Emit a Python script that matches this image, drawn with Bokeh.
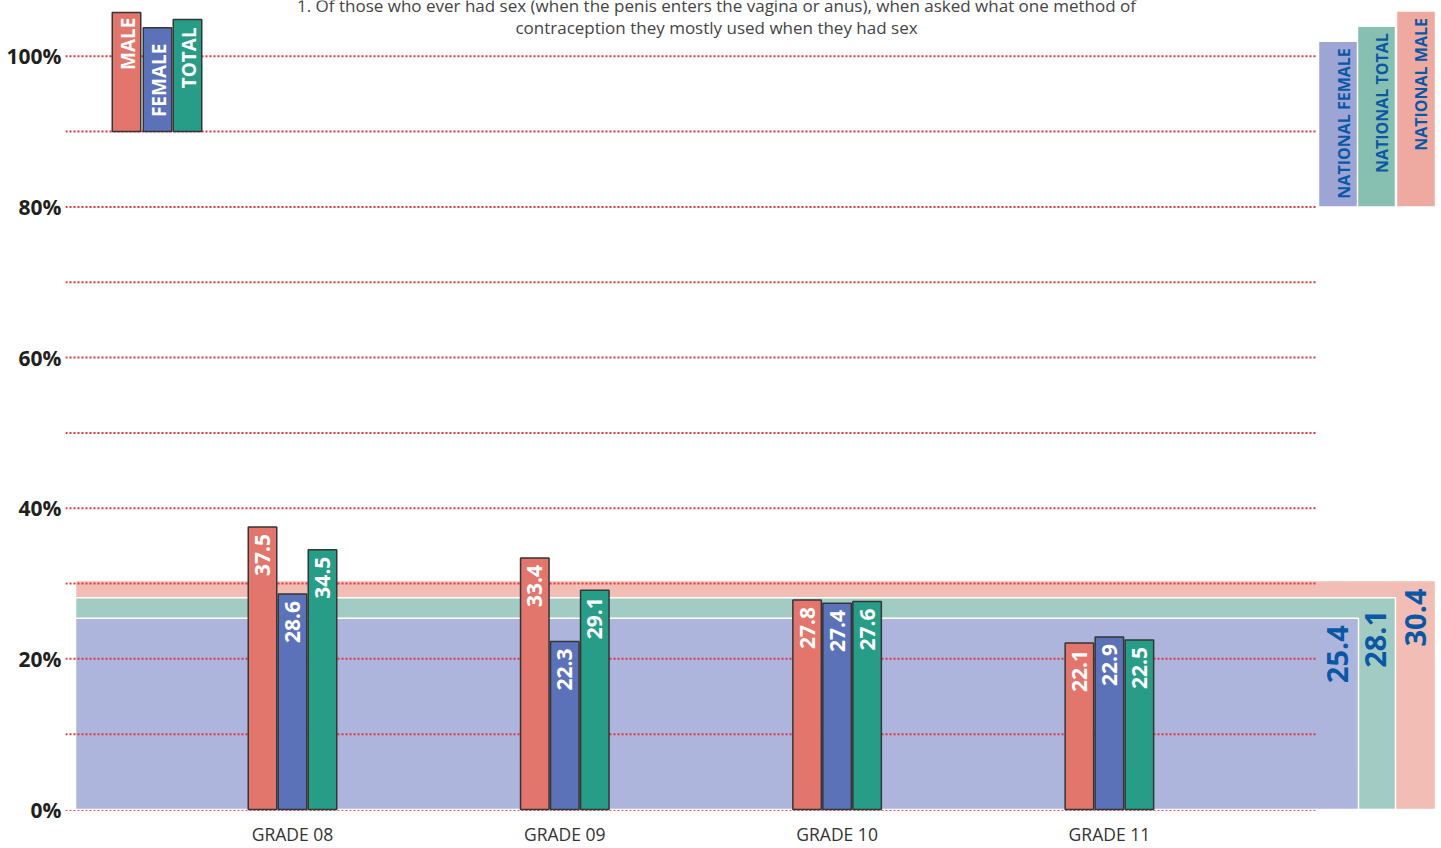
import math
import numpy as np
from bokeh.plotting import figure
from bokeh.models import FixedTicker, ColumnDataSource
from bokeh.core.properties import value
from bokeh.embed import file_html
from bokeh.resources import INLINE

# ---------------- data ----------------
grades = ["GRADE 08", "GRADE 09", "GRADE 10", "GRADE 11"]
male = [37.5, 33.4, 27.8, 22.1]
female = [28.6, 22.3, 27.4, 22.9]
total = [34.5, 29.1, 27.6, 22.5]

national_labels = ["NATIONAL FEMALE", "NATIONAL TOTAL", "NATIONAL MALE"]
national_values = [25.4, 28.1, 30.4]

legend_labels = ["MALE", "FEMALE", "TOTAL"]
y_ticks = [0, 20, 40, 60, 80, 100]
grid_levels = [10, 20, 30, 40, 50, 60, 70, 80, 90, 100]
title_lines = [
    "1. Of those who ever had sex (when the penis enters the vagina or anus), when asked what one method of",
    "contraception they mostly used when they had sex",
]

# ---------------- layout / style ----------------
W, H = 1441, 848
PX_X = 272.3      # pixels per grade step
X0_REF = 292.0    # canvas x of first grade
PX_Y = 7.56       # pixels per percent
Y0_REF = 812.0    # canvas y of 0 %

def ux(r):
    return (r - X0_REF) / PX_X

def uy(r):
    return (Y0_REF - r) / PX_Y

FONT = "Open Sans"
C_MALE, C_FEMALE, C_TOTAL = "#E2756C", "#5B72B8", "#279C87"
BAND_COLORS = ["#ADB5DC", "#A2CCC3", "#F2BDB5"]      # female, total, male
LEG_COLORS = ["#9CA5D3", "#87BFB1", "#EEAAA1"]
BLUE_TXT = "#0A57A6"
RED_GRID = "#E3343F"

p = figure(width=W, height=H, x_range=(ux(65), ux(1441)), y_range=(uy(815), uy(0)),
           output_backend="svg", toolbar_location=None, title=None,
           min_border_left=65, min_border_right=0, min_border_top=0, min_border_bottom=33)
p.outline_line_color = None
p.background_fill_color = "white"
p.border_fill_color = "white"
p.xgrid.visible = False
p.ygrid.visible = False

# national bands
band_right_ref = [1358, 1395, 1435]
for i in [2, 1, 0]:
    p.quad(left=ux(75), right=ux(band_right_ref[i]), bottom=0, top=national_values[i],
           fill_color=BAND_COLORS[i], line_color="white", line_width=1.5)

# national legend columns
col_left_ref = [1318, 1357, 1396]
col_top = [102, 104, 106]
val_off = [7, 12, 8]
for i in range(3):
    cx = (col_left_ref[i] + band_right_ref[i]) / 2
    p.quad(left=ux(col_left_ref[i]), right=ux(band_right_ref[i]), bottom=80, top=col_top[i],
           fill_color=LEG_COLORS[i], line_color="white", line_width=1.5)
    p.text(x=[ux(cx + 5)], y=[col_top[i] - 7 / PX_Y],
           text=[national_labels[i]], angle=math.pi / 2, text_align="right",
           text_baseline="middle", text_font=value(FONT), text_font_size="16px",
           text_font_style="bold", text_color=BLUE_TXT)
    p.text(x=[ux(cx - 1)], y=[national_values[i] - val_off[i] / PX_Y],
           text=[f"{national_values[i]:.1f}"], angle=math.pi / 2, text_align="right",
           text_baseline="middle", text_font=value(FONT), text_font_size="29px",
           text_font_style="bold", text_color=BLUE_TXT)

# grid lines
n = len(grid_levels)
p.segment(x0=[ux(65)] * n, x1=[ux(1315)] * n, y0=grid_levels, y1=grid_levels,
          line_color=RED_GRID, line_width=2, line_dash="2 2")
p.segment(x0=[ux(65)], x1=[ux(1315)], y0=[-0.12], y1=[-0.12],
          line_color="#D9505A", line_width=1, line_dash="2 2")

# bars
xi = np.arange(len(grades))
step = 30 / PX_X
bw = 28.5 / PX_X
series = [(male, C_MALE, -step), (female, C_FEMALE, 0.0), (total, C_TOTAL, step)]
for vals, col, off in series:
    src = ColumnDataSource(dict(x=xi + off, top=vals, lab=[f"{v:.1f}" for v in vals],
                                ly=[v - 7 / PX_Y for v in vals]))
    p.vbar(x="x", top="top", bottom=0, width=bw, source=src, fill_color=col,
           line_color="#353535", line_width=1.5)
    p.text(x="x", y="ly", text="lab", source=src, angle=math.pi / 2, text_align="right",
           text_baseline="middle", text_font=value(FONT), text_font_size="21px",
           text_font_style="bold", text_color="white")

# top-left legend bars
leg_center_ref = [126, 157, 187]
leg_top = [105.8, 103.8, 104.9]
leg_txt_off = [5, 16, 8]
leg_cols = [C_MALE, C_FEMALE, C_TOTAL]
for i in range(3):
    p.vbar(x=[ux(leg_center_ref[i])], top=[leg_top[i]], bottom=90, width=bw,
           fill_color=leg_cols[i], line_color="#353535", line_width=1.5)
    p.text(x=[ux(leg_center_ref[i] + 1)], y=[leg_top[i] - leg_txt_off[i] / PX_Y],
           text=[legend_labels[i]], angle=math.pi / 2, text_align="right",
           text_baseline="middle", text_font=value(FONT), text_font_size="19px",
           text_font_style="bold", text_color="white")

# title (cut at the top as in the original)
p.text(x=[ux(716)] * 2, y=[uy(5), uy(27)], text=title_lines, text_align="center",
       text_baseline="alphabetic", text_font=value(FONT), text_font_size="17px",
       text_color="#444444")

# axes
for ax in (p.xaxis, p.yaxis):
    ax.axis_line_color = None
    ax.major_tick_line_color = None
    ax.minor_tick_line_color = None
    ax.major_tick_out = 0
    ax.major_tick_in = 0
    ax.minor_tick_out = 0
    ax.minor_tick_in = 0

p.yaxis.ticker = FixedTicker(ticks=y_ticks)
p.yaxis.major_label_overrides = {t: f"{t}%" for t in y_ticks}
p.yaxis.major_label_text_font = FONT
p.yaxis.major_label_text_font_size = "21px"
p.yaxis.major_label_text_font_style = "bold"
p.yaxis.major_label_text_color = "#231F20"
p.yaxis.major_label_standoff = 4

p.xaxis.ticker = FixedTicker(ticks=list(range(len(grades))))
p.xaxis.major_label_overrides = {i: g for i, g in enumerate(grades)}
p.xaxis.major_label_text_font = FONT
p.xaxis.major_label_text_font_size = "17.5px"
p.xaxis.major_label_text_color = "#333333"
p.xaxis.major_label_standoff = 9

open("out.html", "w").write(file_html(p, INLINE))
